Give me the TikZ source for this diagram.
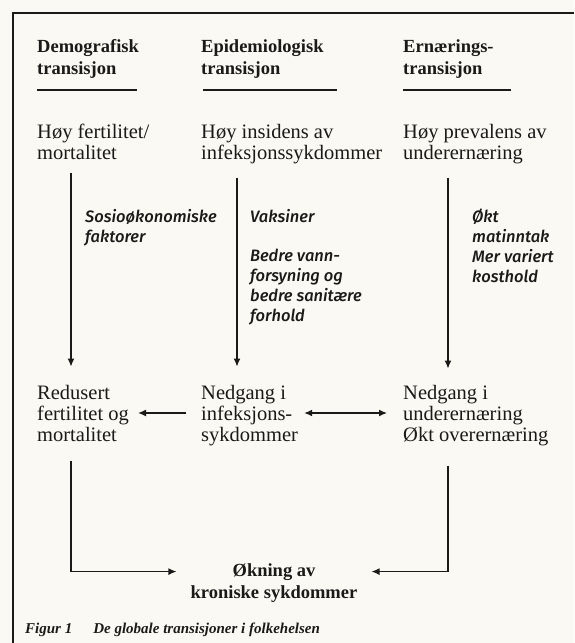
\documentclass[tikz,border=0pt]{standalone}
\usepackage{fontspec}
\setmainfont{Liberation Serif}
\newfontfamily\labfont{Fira Sans Medium Italic}
\usetikzlibrary{arrows.meta}
\definecolor{paper}{RGB}{251,249,243}
\definecolor{ink}{RGB}{28,26,24}

\tikzset{
  head/.style={anchor=base west,inner sep=0,align=left,font=\fontsize{18.5}{22}\selectfont\bfseries},
  txt/.style={anchor=base west,inner sep=0,align=left,font=\fontsize{20.5}{21}\selectfont},
  lab/.style={anchor=base west,inner sep=0,align=left,font=\fontsize{16.5}{20}\selectfont\labfont},
  arr/.style={-{Latex[length=8pt,width=7pt]},line width=1.3pt},
  dbl/.style={{Latex[length=8pt,width=7pt]}-{Latex[length=8pt,width=7pt]},line width=1.3pt},
  rule/.style={line width=2.4pt}
}

\begin{document}
\begin{tikzpicture}[x=1pt,y=-1pt,color=ink]
				\fill[paper] (0,0) rectangle (574,643);
				\useasboundingbox (0,0) rectangle (574,643);
				%frame, open to the right and at the bottom
				\draw[line width=1.6pt] (13,643) -- (13,13) -- (574,13);
				%% the three headings, each with its rule
				%% (a node's base is the baseline of its last line)
				\node[head] (h1) at (37,74){Demografisk\\transisjon};
				\node[head] (h2) at (201,74){Epidemiologisk\\transisjon};
				\node[head] (h3) at (403,74){Ernærings-\\transisjon};
				\foreach \a/\b in {37/137,203/337,403/511}{
					\draw[rule] (\a,90) -- (\b,90);
					}
				%% starting points
				\node[txt] (hoy1) at (37,159){Høy fertilitet/\\mortalitet};
				\node[txt] (hoy2) at (201,159){Høy insidens av\\infeksjonssykdommer};
				\node[txt] (hoy3) at (403,159){Høy prevalens av\\underernæring};
				%% driving factors, in italics
				\node[lab] (sos) at (85,242){Sosioøkonomiske\\faktorer};
				\node[lab] (vak) at (250,222){Vaksiner};
				\node[lab] (bedre) at (250,321){Bedre vann-\\forsyning og\\bedre sanitære\\forhold};
				\node[lab] (okt) at (472,282){Økt\\matinntak\\Mer variert\\kosthold};
				%% outcomes
				\node[txt] (red) at (37,441){Redusert\\fertilitet og\\mortalitet};
				\node[txt] (ned2) at (201,441){Nedgang i\\infeksjons-\\sykdommer};
				\node[txt] (ned3) at (403,441){Nedgang i\\underernæring\\Økt overernæring};
				\node[head,anchor=base,align=center] (okn) at (274,598){Økning av\\kroniske sykdommer};
				\node[anchor=base west,inner sep=0,font=\fontsize{15}{16}\selectfont\bfseries\itshape] (fig) at (25,633){Figur 1\hspace{1.4em}De globale transisjoner i folkehelsen};
				%% column axes
				\coordinate (k1) at (71,0);\coordinate (k2) at (237,0);\coordinate (k3) at (448,0);
				\draw[arr] ([yshift=-14pt]hoy1.south -| k1) -- ([yshift=18pt]red.north -| k1);
				\draw[arr] ([yshift=-14pt]hoy2.south -| k2) -- ([yshift=18pt]ned2.north -| k2);
				\draw[arr] ([yshift=-14pt]hoy3.south -| k3) -- ([yshift=16pt]ned3.north -| k3);
				%% across the bottom row, level with the middle lines
				\coordinate (mid) at (0,413);
				\draw[arr] ([xshift=-15pt]ned2.west |- mid) -- ([xshift=9pt]red.east |- mid);
				\draw[dbl] ([xshift=6pt]ned2.east |- mid) -- ([xshift=-16pt]ned3.west |- mid);
				\draw[arr] ([yshift=-20pt]red.south -| k1) |- ([xshift=-14pt,yshift=11pt]okn.west);
				\draw[arr] ([yshift=-20pt]ned3.south -| k3) |- ([xshift=14pt,yshift=11pt]okn.east);
				\end{tikzpicture}
\end{document}
